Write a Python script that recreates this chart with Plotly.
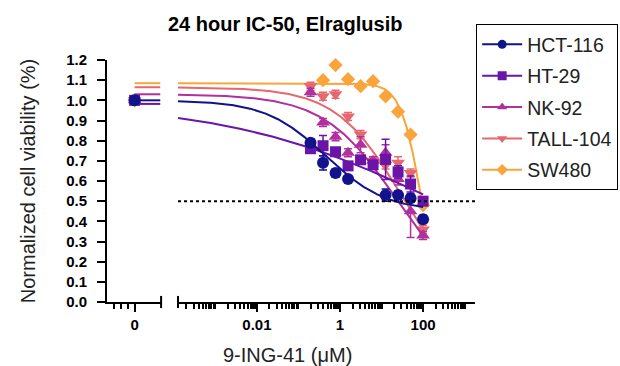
import numpy as np
import plotly.graph_objects as go

# ---------------- data ----------------
concentrations = [0.195, 0.39, 0.78, 1.5625, 3.125, 6.25, 12.5, 25, 50, 100]
zero_dose_value = 1.0

hct116_vals = [0.79, 0.69, 0.64, 0.61, None, None, 0.53, 0.53, 0.515, 0.41]
hct116_err = [0.02, 0.035, 0.02, 0.015, 0, 0, 0.03, 0.02, 0.02, 0.02]
ht29_vals = [0.76, 0.775, 0.745, 0.675, 0.705, 0.68, 0.707, 0.645, 0.585, 0.50]
ht29_err = [0.02, 0.05, 0.02, 0.02, 0.02, 0.02, 0.10, 0.03, 0.04, 0.02]
nk92_vals = [1.04, 0.89, 0.82, 0.74, 0.78, 0.70, 0.74, 0.61, 0.45, 0.33]
nk92_err = [0.02, 0.02, 0.02, 0.02, 0.04, 0.02, 0.04, 0.03, 0.13, 0.02]
tall104_vals = [1.07, 1.02, 1.03, 0.92, 0.83, 0.70, 0.68, 0.69, 0.64, 0.36]
tall104_err = [0.02, 0.02, 0.02, 0.02, 0.02, 0.02, 0.02, 0.03, 0.02, 0.02]
sw480_vals = [None, 1.10, 1.175, 1.105, 1.07, 1.095, 1.02, 0.944, 0.83, 0.48]
sw480_err = [0, 0, 0, 0, 0, 0, 0, 0, 0, 0]

series_names = ["HCT-116", "HT-29", "NK-92", "TALL-104", "SW480"]
series_colors = ["#12128C", "#6A14A8", "#B0309E", "#E4686E", "#F9A53C"]
series_symbols = ["circle", "square", "triangle-up", "triangle-down", "diamond"]
series_sizes = [12, 11, 12, 12, 11]

# 4-parameter logistic fit parameters (top, bottom, IC50, Hill slope)
fit_top = [1.0, 0.99, 1.03, 1.065, 1.085]
fit_bottom = [0.45, 0.0, 0.0, 0.0, 0.0]
fit_ic50 = [0.45, 250, 22, 29.4, 86]
fit_hill = [0.6, 0.17, 0.5, 0.55, 1.8]

x_tick_vals = [0.01, 1, 100]
x_tick_text = ["0.01", "1", "100"]
log_x_range = [-3.9, 3.25]

values = [hct116_vals, ht29_vals, nk92_vals, tall104_vals, sw480_vals]
errors = [hct116_err, ht29_err, nk92_err, tall104_err, sw480_err]


def four_pl(x, top, bottom, ic50, hill):
    x = np.asarray(x, dtype=float)
    return bottom + (top - bottom) / (1.0 + (x / ic50) ** hill)


FONT = "Arial, Liberation Sans, sans-serif"
fig = go.Figure()

curve_x = np.logspace(log_x_range[0], np.log10(max(concentrations)), 300)

# draw in reverse so HCT-116 ends up on top
for i in reversed(range(5)):
    col = series_colors[i]
    left_level = float(four_pl(1e-10, fit_top[i], fit_bottom[i], fit_ic50[i], fit_hill[i]))
    fig.add_trace(go.Scatter(x=[0, 0.93], y=[left_level, left_level], mode="lines",
                             line=dict(color=col, width=2), xaxis="x", yaxis="y",
                             showlegend=False, hoverinfo="skip"))
    fig.add_trace(go.Scatter(x=curve_x,
                             y=four_pl(curve_x, fit_top[i], fit_bottom[i], fit_ic50[i], fit_hill[i]),
                             mode="lines", line=dict(color=col, width=2),
                             xaxis="x2", yaxis="y", showlegend=False, hoverinfo="skip"))
    fig.add_trace(go.Scatter(x=concentrations, y=values[i], mode="markers",
                             marker=dict(symbol=series_symbols[i], size=series_sizes[i], color=col,
                                         line=dict(width=0)),
                             error_y=dict(type="data", array=errors[i], color=col, thickness=1.5, width=4),
                             xaxis="x2", yaxis="y", showlegend=False, cliponaxis=False))
    fig.add_trace(go.Scatter(x=[0], y=[zero_dose_value], mode="markers",
                             marker=dict(symbol=series_symbols[i], size=series_sizes[i], color=col,
                                         line=dict(width=0)),
                             xaxis="x", yaxis="y", showlegend=False))

# legend entries
for i in range(5):
    fig.add_trace(go.Scatter(x=[None], y=[None], mode="lines+markers", name=series_names[i],
                             legendgroup=series_names[i],
                             line=dict(color=series_colors[i], width=2),
                             marker=dict(symbol=series_symbols[i], size=9,
                                         color=series_colors[i]),
                             xaxis="x2", yaxis="y"))

minor_log_ticks = [k * 10.0 ** e for e in range(-4, 4) for k in range(1, 10)
                   if log_x_range[0] <= np.log10(k * 10.0 ** e) <= log_x_range[1]
                   and not any(abs(k * 10.0 ** e - t) < 1e-12 for t in x_tick_vals)]

axis_common = dict(showline=True, linewidth=2, linecolor="black", ticks="outside",
                   tickwidth=2, tickcolor="black", showgrid=False, zeroline=False,
                   automargin=False,
                   tickfont=dict(family=FONT, size=15, color="black", weight="bold"))

fig.update_layout(
    width=620, height=366,
    margin=dict(l=107, r=145, t=60, b=64),
    paper_bgcolor="white", plot_bgcolor="white",
    title=dict(text="<b>24 hour IC-50, Elraglusib</b>", x=0.46, xanchor="center",
               y=0.935, yanchor="middle", font=dict(family=FONT, size=20, color="black")),
    xaxis=dict(domain=[0, 0.147], range=[-1, 0.96], tickvals=[0], ticktext=["0"], ticklen=8,
               minor=dict(tickvals=[-0.74, -0.49, -0.25], ticks="outside", ticklen=5,
                          tickwidth=2, tickcolor="black"),
               anchor="y", **axis_common),
    xaxis2=dict(domain=[0.193, 1], type="log", range=log_x_range, tickvals=x_tick_vals,
                ticktext=x_tick_text, ticklen=8,
                minor=dict(tickvals=minor_log_ticks, ticks="outside", ticklen=5,
                           tickwidth=2, tickcolor="black"),
                anchor="y", **axis_common),
    yaxis=dict(range=[0, 1.2], dtick=0.1, tick0=0, tickformat=".1f", ticklen=8,
               ticklabelstandoff=7, anchor="x",
               title=dict(text="Normalized cell viability (%)", standoff=25,
                          font=dict(family=FONT, size=20, color="#222")),
               **axis_common),
    legend=dict(xref="container", yref="container", x=0.768, xanchor="left",
                y=0.934, yanchor="top",
                bordercolor="black", borderwidth=1, bgcolor="white",
                font=dict(family=FONT, size=19.5, color="#222"),
                tracegroupgap=3, itemwidth=40),
    showlegend=True,
)

fig.add_annotation(text="9-ING-41 (μM)", xref="paper", yref="paper", x=0.49, y=-0.22,
                   xanchor="center", yanchor="middle", showarrow=False,
                   font=dict(family=FONT, size=20, color="#222"))

fig.add_shape(type="line", xref="x2 domain", yref="y", x0=0, x1=1, y0=0.5, y1=0.5,
              line=dict(color="black", width=2, dash="dot"))

for xr, xv in (("x domain", 1), ("x2 domain", 0)):
    fig.add_shape(type="line", xref=xr, yref="y domain", x0=xv, x1=xv, y0=-0.025, y1=0.025,
                  line=dict(color="black", width=2))

fig.write_html("out.html", config={"displayModeBar": False},
               post_script="document.body.style.margin='0';document.body.style.padding='0';")
